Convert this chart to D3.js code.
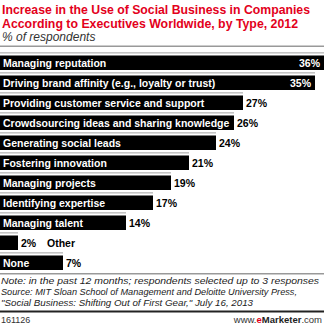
<!DOCTYPE html>
<html><head><meta charset="utf-8">
<script src="https://cdn.jsdelivr.net/npm/d3@7/dist/d3.min.js"></script>
<style>body{margin:0;background:#fff}svg{display:block}</style>
</head><body>
<script>
const categories = ["Managing reputation","Driving brand affinity (e.g., loyalty or trust)","Providing customer service and support","Crowdsourcing ideas and sharing knowledge","Generating social leads","Fostering innovation","Managing projects","Identifying expertise","Managing talent","Other","None"];
const values = [36,35,27,26,24,21,19,17,14,2,7];
const titleLines = ["Increase in the Use of Social Business in Companies","According to Executives Worldwide, by Type, 2012"];
const subtitle = "% of respondents";
const notes = ["Note: in the past 12 months; respondents selected up to 3 responses","Source: MIT Sloan School of Management and Deloitte University Press,","\"Social Business: Shifting Out of First Gear,\" July 16, 2013"];
const footerId = "161126";

const W = 324, H = 325;
const svg = d3.select("body").append("svg").attr("width", W).attr("height", H);
const font = "Arial, 'Liberation Sans', sans-serif";

// Title
const titleLen = [308, 296];
svg.selectAll("text.title").data(titleLines).join("text")
  .attr("x", 2).attr("y", (d,i) => 14 + i*14)
  .attr("font-family", font).attr("font-weight", "bold").attr("font-size", 12.3)
  .attr("fill", "#e3001b")
  .attr("textLength", (d,i) => titleLen[i]).attr("lengthAdjust", "spacingAndGlyphs")
  .text(d => d);
svg.append("text").attr("x", 2).attr("y", 40.5)
  .attr("font-family", font).attr("font-style", "italic").attr("font-size", 12)
  .attr("fill", "#333").text(subtitle);
svg.append("rect").attr("x", 0).attr("y", 45.5).attr("width", W).attr("height", 1.5).attr("fill", "#999");

// Scales
const x = d3.scaleLinear().domain([0, 36]).range([0, 324]);
const y = d3.scaleBand().domain(categories).range([55.5, 275.5]).padding(0);
const bh = 14.5;

const g = svg.append("g");
const rows = g.selectAll("g.row").data(categories.map((c,i) => ({c, v: values[i]}))).join("g")
  .attr("transform", d => `translate(0,${y(d.c)})`);
rows.append("rect").attr("x", 0).attr("y", -3.5).attr("height", 1.6)
  .attr("width", d => x(d.v)).attr("fill", "#c4c4c4");
rows.append("rect").attr("x", 0).attr("y", 0).attr("height", bh)
  .attr("width", d => x(d.v)).attr("fill", "#000");

const inside = d => d.v >= 30;
// Category labels
rows.append("text")
  .attr("x", d => d.c === "Other" ? x(d.v) + 29 : 3)
  .attr("y", 11)
  .attr("font-family", font).attr("font-weight", "bold").attr("font-size", 10.5)
  .attr("fill", d => d.c === "Other" ? "#000" : "#fff")
  .text(d => d.c);
// Value labels
rows.append("text")
  .attr("x", d => inside(d) ? x(d.v) - 4 : x(d.v) + 3)
  .attr("y", 11)
  .attr("text-anchor", d => inside(d) ? "end" : "start")
  .attr("font-family", font).attr("font-weight", "bold").attr("font-size", 10.5)
  .attr("fill", d => inside(d) ? "#fff" : "#000")
  .text(d => d.v + "%");

// Bottom notes
svg.append("rect").attr("x", 0).attr("y", 273).attr("width", W).attr("height", 1.5).attr("fill", "#999");
const noteLen = [318, 296, 252];
svg.selectAll("text.note").data(notes).join("text")
  .attr("x", 1).attr("y", (d,i) => 284 + i*11)
  .attr("font-family", font).attr("font-style", "italic").attr("font-size", 9.6)
  .attr("fill", "#222")
  .attr("textLength", (d,i) => noteLen[i]).attr("lengthAdjust", "spacingAndGlyphs")
  .text(d => d);
svg.append("rect").attr("x", 0).attr("y", 310.5).attr("width", W).attr("height", 2).attr("fill", "#222");
svg.append("text").attr("x", 1).attr("y", 322.5)
  .attr("font-family", font).attr("font-size", 9).attr("fill", "#333").text(footerId);
const brand = svg.append("text").attr("x", 322).attr("y", 322.5).attr("text-anchor", "end")
  .attr("font-family", font).attr("font-size", 9.5).attr("fill", "#333");
brand.append("tspan").text("www.");
brand.append("tspan").attr("fill", "#e3001b").attr("font-weight", "bold").text("e");
brand.append("tspan").attr("font-weight", "bold").attr("fill", "#222").text("Marketer");
brand.append("tspan").text(".com");
</script>
</body></html>
